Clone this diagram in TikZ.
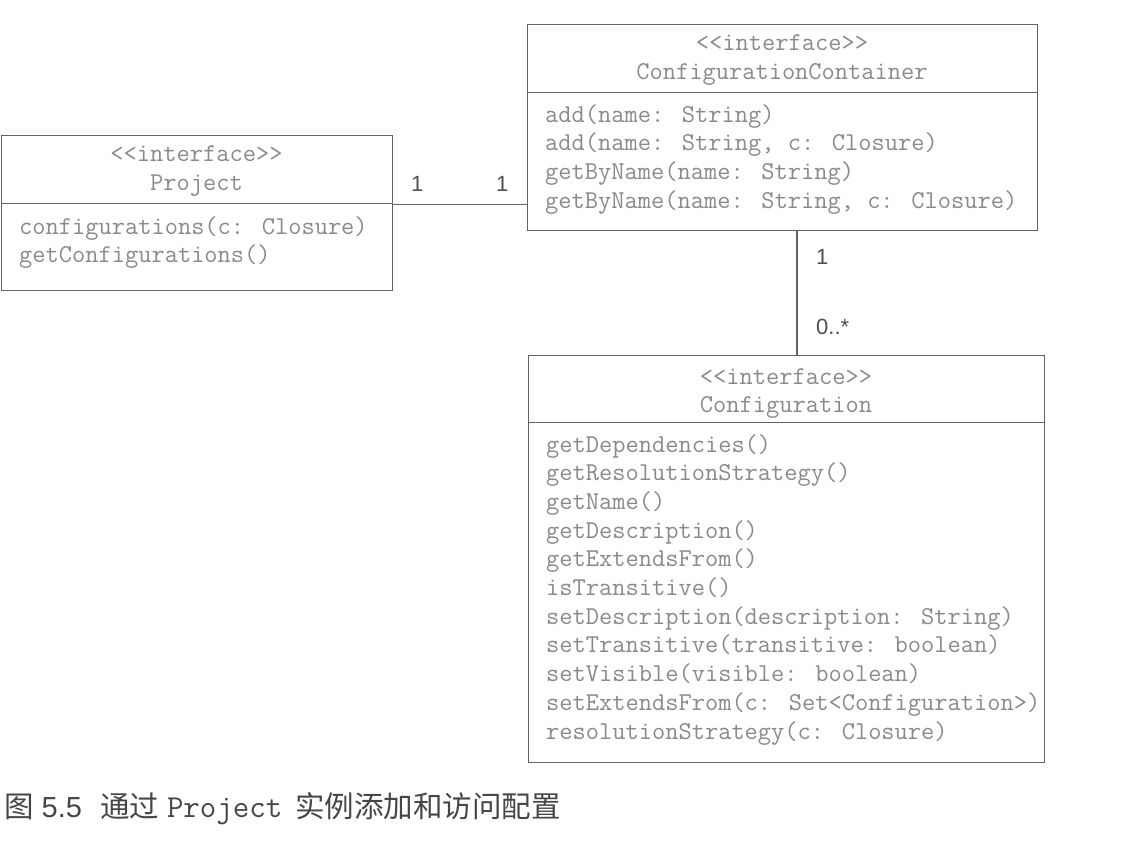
\documentclass[tikz,border=0pt]{standalone}
\usepackage{fontspec}
\newfontfamily\cjk{Noto Sans CJK SC}
\newfontfamily\lsans{Liberation Sans}
\definecolor{txtgray}{RGB}{138,138,138}
\definecolor{linegray}{RGB}{100,100,100}
\definecolor{capgray}{RGB}{70,70,70}
\definecolor{labgray}{RGB}{80,80,80}
\tikzset{
  umlbox/.style={draw=linegray, line width=1.2pt, rectangle, inner sep=0pt, anchor=north west},
  method/.style={anchor=base west, inner sep=0pt, text=txtgray, font=\fontsize{25.7}{28}\selectfont\ttfamily},
  headtxt/.style={anchor=base, inner sep=0pt, text=txtgray, font=\fontsize{25.7}{28}\selectfont\ttfamily},
  mult/.style={anchor=base west, inner sep=0pt, text=labgray, font=\fontsize{22}{24}\selectfont\lsans},
  assoc/.style={draw=linegray, line width=1.2pt},
}
\begin{document}
\begin{tikzpicture}[x=1pt, y=-1pt]
\fill[white] (0,0) rectangle (1136,844);
\useasboundingbox (0,0) rectangle (1136,844);

% Project
\node[umlbox, minimum width=391pt, minimum height=68pt] (projh) at (1,135) {};
\node[umlbox, minimum width=391pt, minimum height=87pt] (projb) at (1,203) {};
\node[headtxt] (projs) at (196.5,161) {<<interface>>};
\node[headtxt] (projn) at (196.5,190) {Project};
\node[method] (pm1) at (19,234) {configurations(c: Closure)};
\node[method] (pm2) at (19,262) {getConfigurations()};

% ConfigurationContainer
\node[umlbox, minimum width=510pt, minimum height=68pt] (cch) at (527,24) {};
\node[umlbox, minimum width=510pt, minimum height=138pt] (ccb) at (527,92) {};
\node[headtxt] (ccs) at (782,50) {<<interface>>};
\node[headtxt] (ccn) at (782,79) {ConfigurationContainer};
\foreach \txt [count=\i] in {{add(name: String)},{add(name: String, c: Closure)},{getByName(name: String)},{getByName(name: String, c: Closure)}}
  \node[method, name=ccm\i] at ({545},{122+28.8*(\i-1)}) {\txt};

% Configuration
\node[umlbox, minimum width=516pt, minimum height=67pt] (confh) at (528,355) {};
\node[umlbox, minimum width=516pt, minimum height=340pt] (confb) at (528,422) {};
\node[headtxt] (confs) at (786,384) {<<interface>>};
\node[headtxt] (confn) at (786,412) {Configuration};
\foreach \txt [count=\i] in {{getDependencies()},{getResolutionStrategy()},{getName()},{getDescription()},{getExtendsFrom()},{isTransitive()},{setDescription(description: String)},{setTransitive(transitive: boolean)},{setVisible(visible: boolean)},{setExtendsFrom(c: Set<Configuration>)},{resolutionStrategy(c: Closure)}}
  \node[method, name=cfm\i] at ({546},{452+28.7*(\i-1)}) {\txt};

% connectors
\draw[assoc] (projh.south east) -- (projh.south east -| cch.west);
\coordinate (vx) at (797,0);
\draw[assoc] (vx |- ccb.south) -- (vx |- confh.north);

% multiplicities
\node[mult] (m1) at (411,191) {1};
\node[mult] (m2) at (496,191) {1};
\node[mult] (m3) at (816,264) {1};
\node[mult] (m4) at (816,334) {0..*};

% caption
\node[anchor=base west, inner sep=0pt, text=capgray] (cap) at (4,817) {{\cjk\fontsize{29.5}{30}\selectfont 图}\hspace{8pt}{\lsans\fontsize{29}{30}\selectfont 5.5}\hspace{18pt}{\cjk\fontsize{29.5}{30}\selectfont 通过}\hspace{8pt}{\fontsize{32}{32}\selectfont\ttfamily Project}\hspace{13pt}{\cjk\fontsize{29.5}{30}\selectfont 实例添加和访问配置}};
\end{tikzpicture}
\end{document}
